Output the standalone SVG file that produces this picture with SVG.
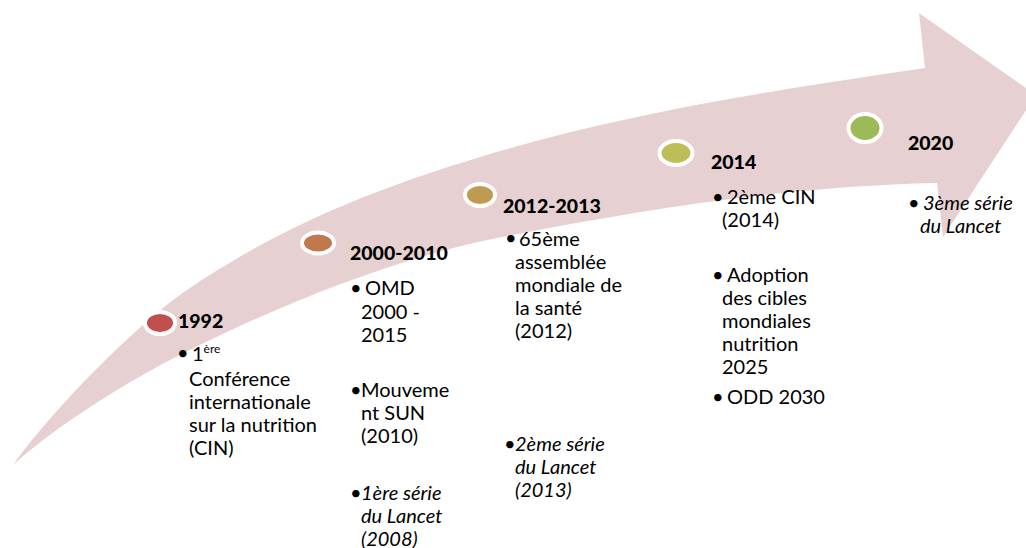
<svg xmlns="http://www.w3.org/2000/svg" width="1026" height="548" viewBox="0 0 1026 548">
<style>
.t{font-family:Lato,"Liberation Sans",sans-serif;font-size:20px;fill:#000}
.y{font-family:Lato,"Liberation Sans",sans-serif;font-size:19.5px;font-weight:900;fill:#000}
.i{font-style:italic}
.sup{font-size:12px}
.dot{stroke:#fff;stroke-width:4}
</style>
<rect width="1026" height="548" fill="#fff"/>
<g id="arrow">
<path fill="#E7D0D1" d="M13,465 C53,409 137,324 187,290 C285,223 382,187 480,157 C628,112 777,90 925,68 L919,13 L1036,95 L943,237 L937,183 C790,186 644,209 497,238 C386,260 257,314 157,367 C107,394 48,433 13,465 Z"/>
</g>
<g id="connectors"></g>
<g id="m1992">
<ellipse class="dot" cx="160" cy="323" rx="15" ry="11" fill="#C0504D"/>
<text class="y" x="178" y="328">1992</text>
<text class="t" x="177" y="360">•</text>
<text class="t" x="192" y="361">1<tspan class="sup" dy="-8">ère</tspan></text>
<text class="t" x="189" y="386">Conférence</text>
<text class="t" x="189" y="409">internationale</text>
<text class="t" x="189" y="432">sur la nutrition</text>
<text class="t" x="189" y="455">(CIN)</text>
</g>
<g id="m2000">
<ellipse class="dot" cx="318" cy="243" rx="16" ry="10.5" fill="#C0794F"/>
<text class="y" x="350" y="260">2000-2010</text>
<text class="t" x="350" y="295">•</text>
<text class="t" x="365" y="295">OMD</text>
<text class="t" x="361" y="319">2000 -</text>
<text class="t" x="361" y="342">2015</text>
<text class="t" x="350" y="397">•</text>
<text class="t" x="361" y="397">Mouveme</text>
<text class="t" x="361" y="420">nt SUN</text>
<text class="t" x="361" y="443">(2010)</text>
<text class="t" x="350" y="500">•</text>
<text class="t i" x="361" y="500">1ère série</text>
<text class="t i" x="361" y="523">du Lancet</text>
<text class="t i" x="361" y="546">(2008)</text>
</g>
<g id="m2012">
<ellipse class="dot" cx="480" cy="195" rx="15" ry="11" fill="#BF9A52"/>
<text class="y" x="503" y="213">2012-2013</text>
<text class="t" x="505" y="245">•</text>
<text class="t" x="519" y="246">65ème</text>
<text class="t" x="515" y="269">assemblée</text>
<text class="t" x="515" y="292">mondiale de</text>
<text class="t" x="515" y="315">la santé</text>
<text class="t" x="515" y="338">(2012)</text>
<text class="t" x="504" y="451">•</text>
<text class="t i" x="515" y="451">2ème série</text>
<text class="t i" x="515" y="474">du Lancet</text>
<text class="t i" x="515" y="497">(2013)</text>
</g>
<g id="m2014">
<ellipse class="dot" cx="676" cy="153" rx="16.5" ry="12" fill="#BDBE58"/>
<text class="y" x="711" y="169">2014</text>
<text class="t" x="712" y="204">•</text>
<text class="t" x="727" y="204">2ème CIN</text>
<text class="t" x="722" y="227">(2014)</text>
<text class="t" x="712" y="282">•</text>
<text class="t" x="727" y="282">Adoption</text>
<text class="t" x="722" y="305">des cibles</text>
<text class="t" x="722" y="328">mondiales</text>
<text class="t" x="722" y="351">nutrition</text>
<text class="t" x="722" y="374">2025</text>
<text class="t" x="712" y="404">•</text>
<text class="t" x="727" y="404">ODD 2030</text>
</g>
<g id="m2020">
<ellipse class="dot" cx="865" cy="128" rx="16.5" ry="14" fill="#9BBB59"/>
<text class="y" x="908" y="150">2020</text>
<text class="t" x="908" y="210">•</text>
<text class="t i" x="923" y="210">3ème série</text>
<text class="t i" x="920" y="233">du Lancet</text>
</g>
</svg>
